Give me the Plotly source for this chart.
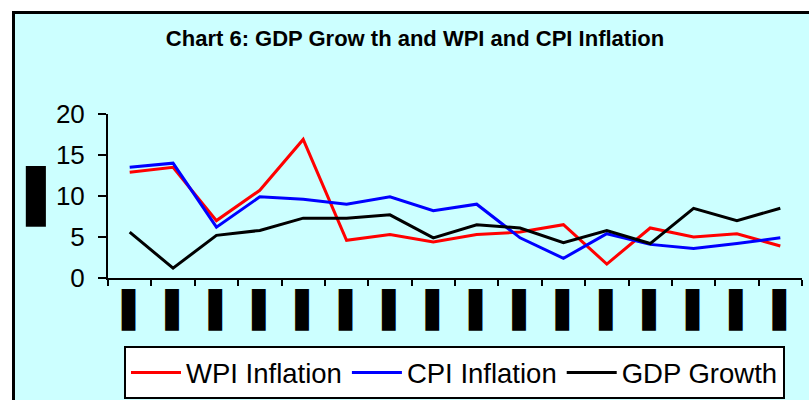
"""GDP growth against WPI and CPI inflation, line chart."""

import plotly.graph_objects as go

# data
periods = [f"Year {i}" for i in range(1, 17)]
period_labels = ["\u00a0▌"] * len(periods)  # tick labels show as solid blocks
wpi_inflation = [12.9, 13.5, 7.0, 10.7, 16.9, 4.6, 5.3, 4.4, 5.3, 5.6, 6.5, 1.7, 6.1, 5.0, 5.4, 3.9]
cpi_inflation = [13.5, 14.0, 6.2, 9.9, 9.6, 9.0, 9.9, 8.2, 9.0, 4.9, 2.4, 5.4, 4.1, 3.6, 4.2, 4.9]
gdp_growth = [5.6, 1.2, 5.2, 5.8, 7.3, 7.3, 7.7, 4.9, 6.5, 6.1, 4.3, 5.8, 4.2, 8.5, 7.0, 8.5]
y_ticks = [0, 5, 10, 15, 20]

W, H = 809, 400
L, R, T, B = 108, 7, 114, 400 - 278
PW, PH = W - L - R, H - T - B


def fx(x):
    """pixel x -> paper x"""
    return (x - L) / PW


def fy(y):
    """pixel y -> paper y"""
    return (H - B - y) / PH


fig = go.Figure()
for name, values, color in [
    ("WPI Inflation", wpi_inflation, "#ff0000"),
    ("CPI Inflation", cpi_inflation, "#0000ff"),
    ("GDP Growth", gdp_growth, "#000000"),
]:
    fig.add_trace(
        go.Scatter(
            x=periods,
            y=values,
            name=name,
            mode="lines",
            line={"color": color, "width": 3},
        )
    )

# cyan chart frame, cut off at the right and bottom like the reference
fig.add_shape(
    type="rect",
    xref="paper",
    yref="paper",
    x0=fx(13.5),
    x1=fx(830),
    y0=fy(420),
    y1=fy(12.5),
    fillcolor="#ccffff",
    line={"color": "black", "width": 3},
    layer="below",
)

# y axis title is a solid block in the reference
fig.add_annotation(
    text="▐",
    xref="paper",
    yref="paper",
    x=fx(48),
    y=fy(196),
    xanchor="right",
    yanchor="middle",
    showarrow=False,
    font={"family": "DejaVu Sans", "size": 51, "color": "black"},
)

fig.update_xaxes(
    type="category",
    range=[-0.5, len(periods) - 0.5],
    tickmode="array",
    tickvals=periods,
    ticktext=period_labels,
    tickangle=0,
    tickfont={"family": "DejaVu Sans", "size": 35, "color": "black"},
    ticklabelstandoff=0,
    tickson="boundaries",
    ticks="outside",
    ticklen=6,
    tickwidth=2,
    tickcolor="black",
    showline=True,
    linecolor="black",
    linewidth=2,
    showgrid=False,
    zeroline=False,
    automargin=False,
)
fig.update_yaxes(
    range=[0, 20],
    tickvals=y_ticks,
    tickfont={"family": "Liberation Sans, Arial", "size": 26, "color": "black"},
    ticks="outside",
    ticklen=8,
    tickwidth=2,
    tickcolor="black",
    ticklabelstandoff=8,
    showline=True,
    linecolor="black",
    linewidth=2,
    showgrid=False,
    zeroline=False,
    automargin=False,
)

fig.update_layout(
    width=W,
    height=H,
    margin={"l": L, "r": R, "t": T, "b": B},
    paper_bgcolor="white",
    plot_bgcolor="rgba(0,0,0,0)",
    title={
        "text": "<b>Chart 6: GDP Grow th and WPI and CPI Inflation</b>",
        "font": {"family": "Liberation Sans, Arial", "size": 22, "color": "black"},
        "x": 415 / W,
        "xref": "container",
        "xanchor": "center",
        "y": 1 - 38 / H,
        "yref": "container",
        "yanchor": "middle",
    },
    legend={
        "orientation": "h",
        "xref": "container",
        "yref": "container",
        "x": 124 / W,
        "xanchor": "left",
        "y": 1 - 346 / H,
        "yanchor": "top",
        "bgcolor": "white",
        "bordercolor": "black",
        "borderwidth": 2,
        "font": {"family": "Liberation Sans, Arial", "size": 27.5, "color": "black"},
        "itemwidth": 50,
    },
    showlegend=True,
)

# drop the browser's default page margin so the figure fills the window
fig.write_html(
    "out.html",
    config={"displayModeBar": False},
    post_script="document.body.style.margin = '0';",
)
